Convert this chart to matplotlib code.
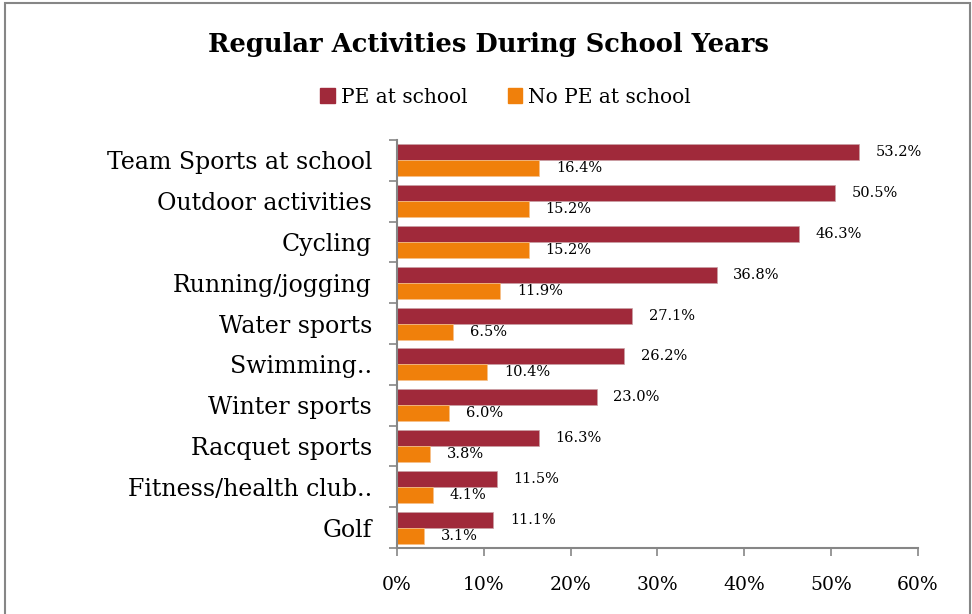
import numpy as np
import matplotlib.pyplot as plt
from matplotlib.patches import Patch, Rectangle
from matplotlib.ticker import FixedLocator, PercentFormatter

activities = ["Team Sports at school", "Outdoor activities", "Cycling",
              "Running/jogging", "Water sports", "Swimming..",
              "Winter sports", "Racquet sports", "Fitness/health club..",
              "Golf"]
pe_school = [53.2, 50.5, 46.3, 36.8, 27.1, 26.2, 23.0, 16.3, 11.5, 11.1]
no_pe_school = [16.4, 15.2, 15.2, 11.9, 6.5, 10.4, 6.0, 3.8, 4.1, 3.1]

red = "#A0293A"
orange = "#F0800B"
grey = "#868686"

plt.rcParams['font.family'] = ['DejaVu Serif']

fig = plt.figure(figsize=(9.72, 6.14), dpi=100)
ax = fig.add_axes([0.4084, 0.1075, 0.536, 0.6645])

y = np.arange(len(activities))
h = 0.39
ax.barh(y - h / 2, pe_school, height=h, color=red, edgecolor="#c9a0a6", linewidth=0.5)
ax.barh(y + h / 2, no_pe_school, height=h, color=orange, edgecolor="#f6c08a", linewidth=0.5)

# value labels next to each bar
for i in range(len(activities)):
    ax.annotate(f"{pe_school[i]:.1f}%", (pe_school[i], y[i] - h / 2),
                xytext=(12, 0), textcoords="offset points", va="center", fontsize=10.5)
    ax.annotate(f"{no_pe_school[i]:.1f}%", (no_pe_school[i], y[i] + h / 2),
                xytext=(12, 0), textcoords="offset points", va="center", fontsize=10.5)

ax.set_ylim(len(activities) - 0.5, -0.5)
ax.set_xlim(0, 60)
ax.set_xticks(range(0, 61, 10))
ax.xaxis.set_major_formatter(PercentFormatter(decimals=0))
ax.set_yticks(y)
ax.set_yticklabels(activities, fontsize=17)
ax.yaxis.set_minor_locator(FixedLocator(np.arange(-0.5, len(activities), 1)))
ax.tick_params(axis="y", which="major", length=0, pad=18)
ax.tick_params(axis="y", which="minor", length=6, color=grey, width=1.2)
ax.tick_params(axis="x", length=6, color=grey, width=1.2, labelsize=13.5, pad=14)

for side in ["top", "right"]:
    ax.spines[side].set_visible(False)
for side in ["left", "bottom"]:
    ax.spines[side].set_color(grey)
    ax.spines[side].set_linewidth(1.5)

fig.text(0.502, 0.927, "Regular Activities During School Years",
         ha="center", va="center", fontsize=18.5, fontweight="bold")

handles = [Patch(color=red), Patch(color=orange)]
fig.legend(handles, ["PE at school", "No PE at school"], loc="center",
           bbox_to_anchor=(0.52, 0.842), ncol=2, frameon=False, fontsize=14.5,
           handlelength=0.7, handleheight=0.7, handletextpad=0.3, columnspacing=2)

fig.patches.append(Rectangle((5 / 972, -0.1), 965 / 972, 1.1 - 3 / 614,
                             transform=fig.transFigure, fill=False,
                             edgecolor=grey, linewidth=1.5))

plt.savefig("out.png", dpi=100)
